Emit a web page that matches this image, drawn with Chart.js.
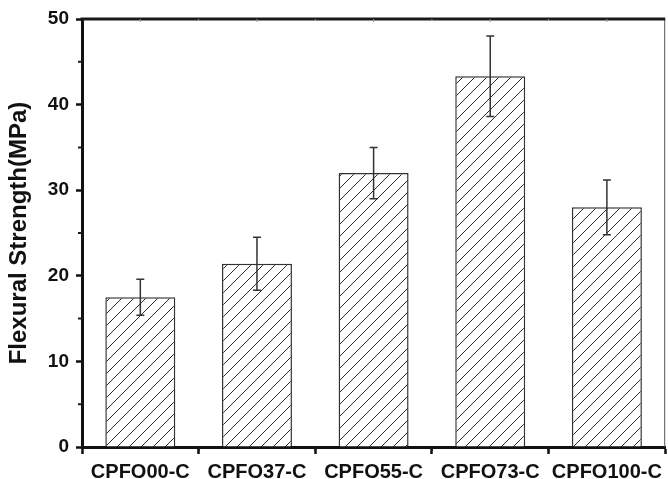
<!DOCTYPE html>
<html>
<head>
<meta charset="utf-8">
<script src="https://cdn.jsdelivr.net/npm/chart.js@4.4.0/dist/chart.umd.min.js"></script>
<style>
  html, body { margin: 0; padding: 0; background: #fff; }
  #wrap { width: 668px; height: 479px; }
</style>
</head>
<body>
<div id="wrap"><canvas id="chart"></canvas></div>
<script>
const samples = ['CPFO00-C', 'CPFO37-C', 'CPFO55-C', 'CPFO73-C', 'CPFO100-C'];
const strength = [17.5, 21.4, 32.0, 43.3, 28.0];
const strengthErr = [2.1, 3.1, 3.0, 4.7, 3.2];
const yTicks = [0, 10, 20, 30, 40, 50];
const yMinor = [5, 15, 25, 35, 45];

const FONT = "'Liberation Sans', Arial, sans-serif";

// diagonal hatch like the origin plot
function makeHatch() {
  const c = document.createElement('canvas');
  c.width = 12; c.height = 12;
  const g = c.getContext('2d');
  g.fillStyle = '#fff';
  g.fillRect(0, 0, 12, 12);
  g.strokeStyle = '#2a2a2a';
  g.lineWidth = 1;
  g.beginPath();
  g.moveTo(0, 12); g.lineTo(12, 0);
  g.moveTo(-3, 3); g.lineTo(3, -3);
  g.moveTo(9, 15); g.lineTo(15, 9);
  g.stroke();
  return g.createPattern(c, 'repeat');
}

const frame = {
  id: 'frame',
  afterDatasetsDraw(chart) {
    const ctx = chart.ctx;
    const y = chart.scales.y;
    const x = chart.scales.x;
    const bars = chart.getDatasetMeta(0).data;
    ctx.save();
    // error bars
    ctx.strokeStyle = '#333';
    ctx.lineWidth = 1.5;
    bars.forEach((b, i) => {
      const top = y.getPixelForValue(strength[i] + strengthErr[i]);
      const bot = y.getPixelForValue(strength[i] - strengthErr[i]);
      ctx.beginPath();
      ctx.moveTo(b.x, top); ctx.lineTo(b.x, bot);
      ctx.moveTo(b.x - 4, top); ctx.lineTo(b.x + 4, top);
      ctx.moveTo(b.x - 4, bot); ctx.lineTo(b.x + 4, bot);
      ctx.stroke();
    });
    const a = chart.chartArea;
    // right border thin, top border thick
    ctx.strokeStyle = '#555';
    ctx.lineWidth = 1;
    ctx.beginPath();
    ctx.moveTo(a.right - 0.5, a.top); ctx.lineTo(a.right - 0.5, a.bottom);
    ctx.stroke();
    ctx.strokeStyle = '#1a1a1a';
    ctx.lineWidth = 3;
    ctx.beginPath();
    ctx.moveTo(a.left - 1.5, a.top); ctx.lineTo(a.right, a.top);
    ctx.stroke();
    // minor ticks on the left axis
    ctx.lineWidth = 2;
    ctx.beginPath();
    yMinor.forEach(v => {
      const p = y.getPixelForValue(v);
      ctx.moveTo(a.left - 4, p); ctx.lineTo(a.left, p);
    });
    // minor ticks between categories on the bottom axis
    for (let i = 1; i < samples.length; i++) {
      const p = (x.getPixelForValue(i - 1) + x.getPixelForValue(i)) / 2;
      ctx.moveTo(p, a.bottom); ctx.lineTo(p, a.bottom + 4);
    }
    ctx.stroke();
    // faint inner ticks on the top axis
    ctx.strokeStyle = '#999';
    ctx.lineWidth = 1;
    ctx.beginPath();
    for (let i = 0; i < samples.length; i++) {
      const p = x.getPixelForValue(i);
      ctx.moveTo(p, a.top); ctx.lineTo(p, a.top + 3);
      if (i > 0) {
        const q = (x.getPixelForValue(i - 1) + p) / 2;
        ctx.moveTo(q, a.top); ctx.lineTo(q, a.top + 2);
      }
    }
    ctx.stroke();
    ctx.restore();
  }
};

new Chart(document.getElementById('chart'), {
  type: 'bar',
  data: {
    labels: samples,
    datasets: [{
      data: strength,
      backgroundColor: makeHatch(),
      borderColor: '#333',
      borderWidth: 1.5,
      barPercentage: 0.6,
      categoryPercentage: 1.0
    }]
  },
  options: {
    responsive: true,
    maintainAspectRatio: false,
    animation: false,
    layout: { padding: { top: 19, right: 1, left: 0, bottom: 0 } },
    plugins: { legend: { display: false }, tooltip: { enabled: false } },
    scales: {
      x: {
        afterFit(s) { s.height = 32; },
        grid: { drawOnChartArea: false, tickLength: 7, tickWidth: 2.5, tickColor: '#111' },
        border: { width: 3, color: '#111' },
        ticks: { color: '#111', padding: 6, font: { family: FONT, size: 20, weight: 'bold' } }
      },
      y: {
        min: 0,
        max: 50,
        afterFit(s) { s.width = 82; },
        afterBuildTicks(s) { s.ticks = yTicks.map(v => ({ value: v })); },
        grid: { drawOnChartArea: false, tickLength: 6, tickWidth: 2.5, tickColor: '#111' },
        border: { width: 3, color: '#111' },
        ticks: { color: '#111', padding: 7, font: { family: FONT, size: 19, weight: 'bold' } },
        title: {
          display: true,
          text: 'Flexural Strength(MPa)',
          color: '#111',
          padding: { top: 5, bottom: 0 },
          font: { family: FONT, size: 24, weight: 'bold' }
        }
      }
    }
  },
  plugins: [frame]
});
</script>
</body>
</html>
